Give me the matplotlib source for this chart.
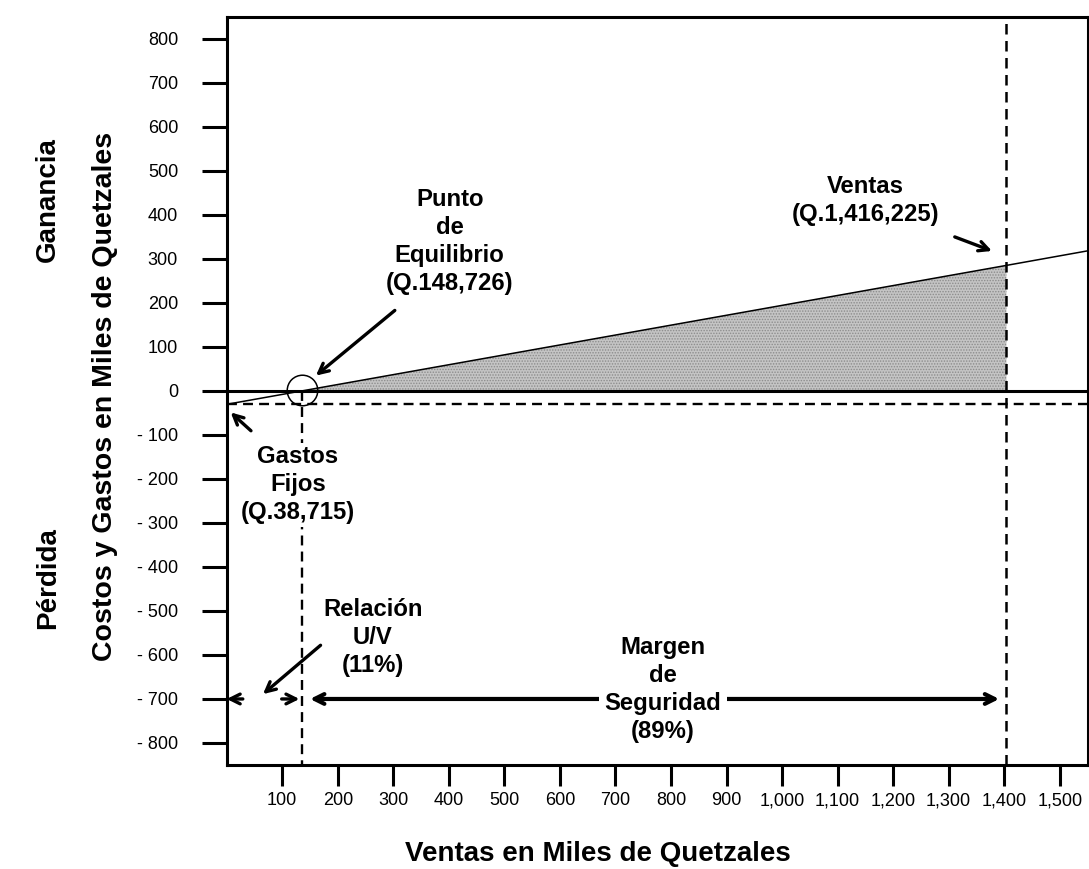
import matplotlib
matplotlib.use("Agg")
import matplotlib.pyplot as plt
from matplotlib.ticker import FixedLocator, FuncFormatter

plt.rcParams['font.family'] = ['Liberation Sans', 'DejaVu Sans']
plt.rcParams['hatch.linewidth'] = 0.7

# ---- data (thousands of Quetzales) ----
gastos_fijos = 30.6          # loss at zero sales
punto_equilibrio = 136       # break-even sales
ventas = 1404                # actual sales
x_line = [0, 136, 1404, 1550]
y_line = [-30.6, 0, 285, 318]
shade_x = [136, 1404]
shade_y = [0, 285]
xticks = list(range(100, 1600, 100))
yticks = list(range(-800, 900, 100))
xlim = (0, 1550)
ylim = (-850, 850)

fig = plt.figure(figsize=(10.89, 8.69), dpi=100)
W, H = 1089, 869
ax = fig.add_axes([226.7 / W, 1 - 765 / H, (1087.5 - 226.7) / W, (765 - 16.7) / H])
ax.set_xlim(*xlim)
ax.set_ylim(*ylim)

for s in ax.spines.values():
    s.set_linewidth(2.2)

ax.xaxis.set_major_locator(FixedLocator(xticks))
ax.yaxis.set_major_locator(FixedLocator(yticks))
ax.xaxis.set_major_formatter(FuncFormatter(lambda v, p: f"{int(v):,}"))
ax.yaxis.set_major_formatter(FuncFormatter(lambda v, p: "0" if v == 0 else (f"- {int(-v)}" if v < 0 else f"{int(v)}")))
ax.tick_params(axis='x', direction='out', length=15, width=2.2, pad=4.5, labelsize=13)
ax.tick_params(axis='y', direction='out', length=18, width=2.2, pad=17, labelsize=13)

# shaded profit region (fine dotted grey)
ax.fill_between(shade_x, shade_y, 0, facecolor='#c4c4c4', edgecolor='#8c8c8c', hatch='......',
                linewidth=0, zorder=1)
# profit line
ax.plot(x_line, y_line, color='black', lw=1.1, zorder=3)
# zero line
ax.axhline(0, color='black', lw=2.2, zorder=4)

dash = (0, (4.2, 2.6))
ax.axhline(-gastos_fijos, color='black', lw=1.7, ls=dash, zorder=2)
ax.plot([punto_equilibrio, punto_equilibrio], [0, ylim[0]], color='black', lw=1.7, ls=dash, zorder=2)
ax.plot([ventas, ventas], list(ylim), color='black', lw=1.8, ls=dash, zorder=2)

# break-even circle
ax.plot([punto_equilibrio], [2], marker='o', ms=22, mfc='none', mec='black', mew=1.1, zorder=5)

bold = dict(fontsize=17.2, fontweight='bold', ha='center', va='center', linespacing=1.28)
arrow = dict(arrowstyle='->,head_length=0.7,head_width=0.35', lw=2.4, color='black', shrinkA=0, shrinkB=0)

ax.text(401.6, 340, "Punto\nde\nEquilibrio\n(Q.148,726)", **bold, zorder=6)
ax.annotate("", xy=(160.6, 34.6), xytext=(302.7, 182.7), arrowprops=arrow, zorder=6)

ax.text(1150, 433, "Ventas\n(Q.1,416,225)", **bold, zorder=6)
ax.annotate("", xy=(1378, 317.8), xytext=(1311, 349.7), arrowprops=arrow, zorder=6)

ax.text(128, -213.7, "Gastos\nFijos\n(Q.38,715)", **bold, zorder=6,
        bbox=dict(facecolor='white', edgecolor='none', pad=2))
ax.annotate("", xy=(7.2, -49), xytext=(43.7, -90.7), arrowprops=arrow, zorder=6)

ax.text(263, -560, "Relación\nU/V\n(11%)", **bold, zorder=6)
ax.annotate("", xy=(65.3, -689), xytext=(169, -578), arrowprops=arrow, zorder=6)

# U/V arrows
ax.annotate("", xy=(0, -700), xytext=(29, -700), arrowprops=arrow, zorder=6)
ax.annotate("", xy=(131, -700), xytext=(99, -700), arrowprops=arrow, zorder=6)

# Margen de seguridad arrow
arrow2 = dict(arrowstyle='<->,head_length=0.7,head_width=0.35', lw=3, color='black', shrinkA=0, shrinkB=0)
ax.annotate("", xy=(1391, -700), xytext=(150, -700), arrowprops=arrow2, zorder=5)
ax.text(785, -678, "Margen\nde\nSeguridad\n(89%)", **bold, zorder=6,
        bbox=dict(facecolor='white', edgecolor='none', pad=4))

# axis labels
fig.text(598 / W, 1 - 854 / H, "Ventas en Miles de Quetzales", fontsize=20, fontweight='bold',
         ha='center', va='center')
fig.text(105 / W, 1 - 396 / H, "Costos y Gastos en Miles de Quetzales", fontsize=20.5, fontweight='bold',
         ha='center', va='center', rotation=90)
fig.text(48 / W, 1 - 200 / H, "Ganancia", fontsize=20, fontweight='bold',
         ha='center', va='center', rotation=90)
fig.text(48 / W, 1 - 578 / H, "Pérdida", fontsize=20, fontweight='bold',
         ha='center', va='center', rotation=90)

fig.savefig("out.png", dpi=100)
